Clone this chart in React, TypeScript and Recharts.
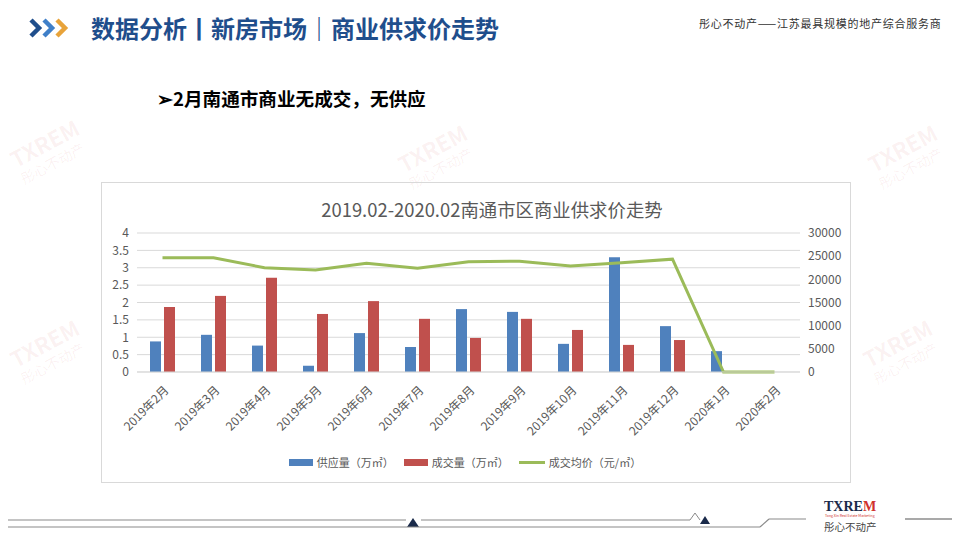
import React from "react";
import { ComposedChart, Bar, Line, XAxis, YAxis, CartesianGrid, Legend } from "recharts";

const months = [
  "2019年2月", "2019年3月", "2019年4月", "2019年5月", "2019年6月", "2019年7月",
  "2019年8月", "2019年9月", "2019年10月", "2019年11月", "2019年12月", "2020年1月", "2020年2月",
];
const supply = [0.88, 1.07, 0.76, 0.18, 1.12, 0.72, 1.81, 1.73, 0.81, 3.3, 1.32, 0.6, 0];
const deals = [1.87, 2.19, 2.71, 1.67, 2.04, 1.53, 0.98, 1.53, 1.21, 0.78, 0.92, 0, 0];
const price = [24650, 24650, 22500, 22000, 23450, 22400, 23800, 23900, 22900, 23600, 24350, 0, 0];
const leftTicks = [0, 0.5, 1, 1.5, 2, 2.5, 3, 3.5, 4];
const rightTicks = [0, 5000, 10000, 15000, 20000, 25000, 30000];
const seriesNames = ["供应量（万㎡）", "成交量（万㎡）", "成交均价（元/㎡）"];

const data = months.map((m, i) => ({ month: m, supply: supply[i], deals: deals[i], price: price[i] }));

const FONT = '"Noto Sans CJK SC", "Noto Sans", sans-serif';
const BLUE = "#4F81BD";
const RED = "#C0504D";
const GREEN = "#9BBB59";
const GREY = "#595959";

const XTick = (props: any) => {
  const { x, y, payload } = props;
  return (
    <g transform={`translate(${x + 4},${y + 8}) rotate(-45)`}>
      <text x={0} y={0} dy="0.35em" textAnchor="end" fontSize={12} fill={GREY} fontFamily={FONT}>
        {payload.value}
      </text>
    </g>
  );
};

const LegendContent = () => (
  <div
    style={{
      display: "flex",
      justifyContent: "center",
      alignItems: "center",
      height: 20,
      fontSize: 11,
      color: GREY,
      fontFamily: FONT,
      paddingRight: 22,
    }}
  >
    <span style={{ display: "inline-block", width: 24, height: 7, background: BLUE, marginRight: 4 }} />
    <span style={{ marginRight: 10 }}>{seriesNames[0]}</span>
    <span style={{ display: "inline-block", width: 24, height: 7, background: RED, marginRight: 4 }} />
    <span style={{ marginRight: 10 }}>{seriesNames[1]}</span>
    <span style={{ display: "inline-block", width: 26, height: 3, background: GREEN, marginRight: 4 }} />
    <span>{seriesNames[2]}</span>
  </div>
);

const Watermark = ({ x, y }: { x: number; y: number }) => (
  <div
    style={{
      position: "absolute",
      left: x,
      top: y,
      transform: "rotate(-28deg)",
      color: "rgba(200,60,60,0.07)",
      fontFamily: FONT,
      fontWeight: 700,
      fontSize: 22,
      lineHeight: "22px",
      whiteSpace: "nowrap",
      pointerEvents: "none",
    }}
  >
    TXREM
    <div style={{ fontSize: 14, fontWeight: 400 }}>彤心不动产</div>
  </div>
);

export default function App() {
  return (
    <div
      style={{
        position: "relative",
        width: 960,
        height: 540,
        margin: -8,
        background: "#ffffff",
        overflow: "hidden",
        fontFamily: FONT,
      }}
    >
      {/* watermarks */}
      <Watermark x={12} y={130} />
      <Watermark x={400} y={135} />
      <Watermark x={870} y={135} />
      <Watermark x={865} y={330} />
      <Watermark x={12} y={330} />

      {/* header chevrons */}
      <svg style={{ position: "absolute", left: 0, top: 0 }} width={90} height={50}>
        <polyline points="31,20 39,28 31,36" fill="none" stroke="#1F4E8C" strokeWidth={4.5} />
        <polyline points="44,20 52,28 44,36" fill="none" stroke="#3F7FC8" strokeWidth={4.5} />
        <polyline points="57,20 65,28 57,36" fill="none" stroke="#E8A33A" strokeWidth={4.5} />
      </svg>
      <div
        style={{
          position: "absolute",
          left: 91,
          top: 11,
          fontSize: 24,
          fontWeight: 700,
          color: "#1F4E8C",
          whiteSpace: "nowrap",
          lineHeight: "34px",
        }}
      >
        数据分析丨新房市场｜商业供求价走势
      </div>
      <div
        style={{
          position: "absolute",
          left: 699,
          top: 15,
          fontSize: 11,
          color: "#333333",
          whiteSpace: "nowrap",
          letterSpacing: 0.75,
          lineHeight: "16px",
        }}
      >
        彤心不动产——江苏最具规模的地产综合服务商
      </div>

      {/* subtitle */}
      <div
        style={{
          position: "absolute",
          left: 157,
          top: 85,
          fontSize: 18.6,
          fontWeight: 700,
          color: "#000000",
          whiteSpace: "nowrap",
          lineHeight: "26px",
        }}
      >
        ➢2月南通市商业无成交，无供应
      </div>

      {/* chart box */}
      <div
        style={{
          position: "absolute",
          left: 101,
          top: 182,
          width: 750,
          height: 301,
          border: "1px solid #d9d9d9",
          boxSizing: "border-box",
        }}
      />
      <div
        style={{
          position: "absolute",
          left: 101,
          top: 196,
          width: 782,
          textAlign: "center",
          fontSize: 18.4,
          color: GREY,
          whiteSpace: "nowrap",
          lineHeight: "26px",
        }}
      >
        2019.02-2020.02南通市区商业供求价走势
      </div>
      <div style={{ position: "absolute", left: 101, top: 182 }}>
        <ComposedChart
          width={750}
          height={301}
          data={data}
          margin={{ top: 51, right: 0, left: 0, bottom: 11 }}
          barGap={3}
        >
          <CartesianGrid vertical={false} stroke="#d9d9d9" yAxisId="left" />
          <XAxis
            dataKey="month"
            interval={0}
            height={80}
            tick={<XTick />}
            tickLine={false}
            axisLine={{ stroke: "#d9d9d9" }}
          />
          <YAxis
            yAxisId="left"
            orientation="left"
            width={36}
            domain={[0, 4]}
            ticks={leftTicks}
            interval={0}
            axisLine={false}
            tickLine={false}
            tick={{ fontSize: 12, fill: GREY, fontFamily: FONT }}
          />
          <YAxis
            yAxisId="right"
            orientation="right"
            width={51}
            domain={[0, 30000]}
            ticks={rightTicks}
            interval={0}
            axisLine={false}
            tickLine={false}
            tick={{ fontSize: 12, fill: GREY, fontFamily: FONT, textAnchor: "start" }}
          />
          <Legend verticalAlign="bottom" content={<LegendContent />} />
          <Bar yAxisId="left" dataKey="supply" name={seriesNames[0]} fill={BLUE} barSize={11} isAnimationActive={false} />
          <Bar yAxisId="left" dataKey="deals" name={seriesNames[1]} fill={RED} barSize={11} isAnimationActive={false} />
          <Line
            yAxisId="right"
            type="linear"
            dataKey="price"
            name={seriesNames[2]}
            stroke={GREEN}
            strokeWidth={3}
            dot={false}
            isAnimationActive={false}
          />
        </ComposedChart>
      </div>

      {/* footer */}
      <svg style={{ position: "absolute", left: 0, top: 495 }} width={960} height={45}>
        <line x1={0} y1={25} x2={406} y2={25} stroke="#8a8a8a" strokeWidth={1.2} />
        <line x1={421} y1={25} x2={690} y2={25} stroke="#8a8a8a" strokeWidth={1.2} />
        <polyline points="690,25 695,18 700,25" fill="none" stroke="#8a8a8a" strokeWidth={1} />
        <polygon points="413,23 407,32 419,32" fill="#1a2a4a" />
        <polygon points="705,21 700,29 710,29" fill="#1a2a4a" />
        <line x1={0} y1={32} x2={760} y2={32} stroke="#8a8a8a" strokeWidth={1.2} />
        <line x1={760} y1={32} x2={769} y2={24} stroke="#8a8a8a" strokeWidth={1.2} />
        <line x1={769} y1={24} x2={806} y2={24} stroke="#8a8a8a" strokeWidth={1.2} />
        <line x1={905} y1={24} x2={952} y2={24} stroke="#555" strokeWidth={1.2} />
        <polygon points="962,13 952,24 962,35" fill="#1a2a4a" />
        <text x={824} y={16} fontSize={14} fontWeight={700} fontFamily='"Liberation Serif", serif' fill="#1a2a4a">
          TXRE<tspan fill="#d0312d">M</tspan>
        </text>
        <text x={825} y={21.5} fontSize={3.5} fill="#d0312d" fontFamily={FONT}>
          Tong Xin Real Estate Marketing
        </text>
        <text x={824} y={36} fontSize={10.5} fill="#444" fontFamily={FONT}>
          彤心不动产
        </text>
      </svg>
    </div>
  );
}
